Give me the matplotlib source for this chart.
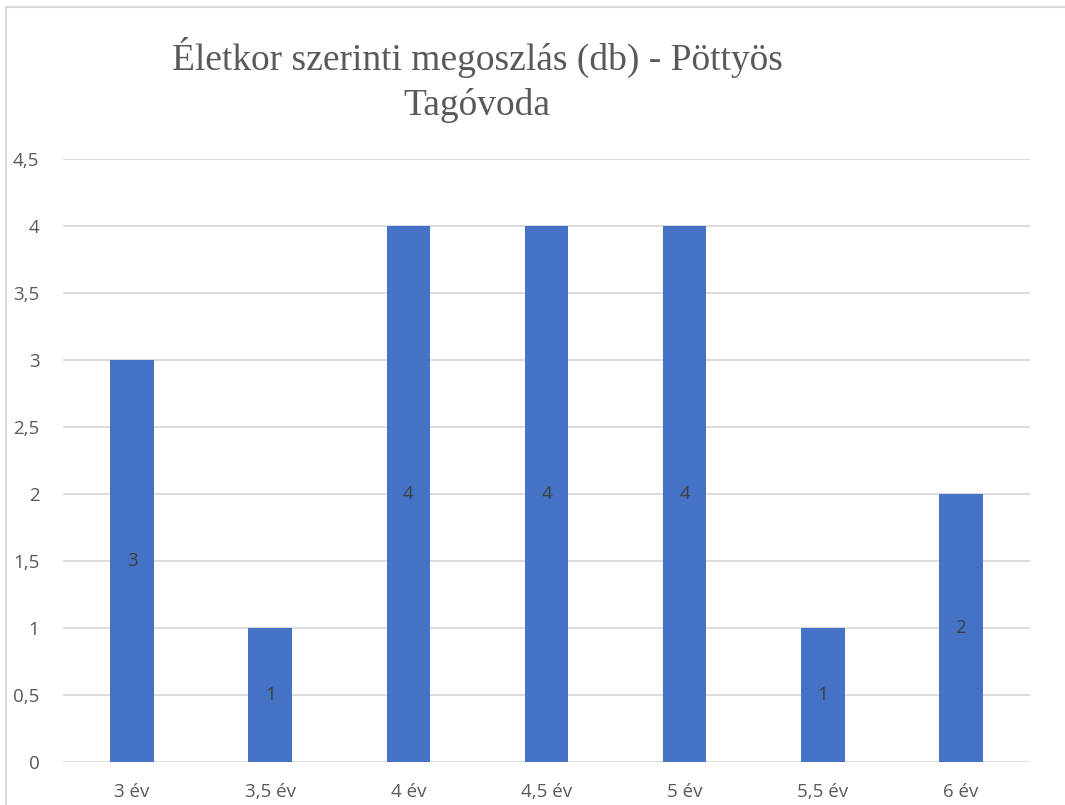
import matplotlib.pyplot as plt
from matplotlib.lines import Line2D

# data
categories = ['3 év', '3,5 év', '4 év', '4,5 év', '5 év', '5,5 év', '6 év']
values = [3, 1, 4, 4, 4, 1, 2]
yticks = [0, 0.5, 1, 1.5, 2, 2.5, 3, 3.5, 4, 4.5]
ytick_labels = ['0', '0,5', '1', '1,5', '2', '2,5', '3', '3,5', '4', '4,5']

W, H = 1065, 805
fig = plt.figure(figsize=(W / 100, H / 100), dpi=100)
ax = fig.add_axes([63 / W, 1 - 762 / H, (1030 - 63) / W, (762 - 159) / H])

x = range(len(categories))
bars = ax.bar(x, values, width=0.315, color='#4472C4', zorder=3)
for b, v in zip(bars, values):
    ax.text(b.get_x() + b.get_width() / 2, v / 2, str(v), ha='center', va='center',
            fontsize=13.5, color='#404040', family='Open Sans', zorder=4)

ax.set_xlim(-0.5, len(categories) - 0.5)
ax.set_ylim(0, 4.5)
ax.set_yticks(yticks)
ax.set_yticklabels(ytick_labels)
ax.set_xticks(list(x))
ax.set_xticklabels(categories)
ax.yaxis.grid(True, color='#d9d9d9', linewidth=1.3, zorder=0)
for s in ax.spines.values():
    s.set_visible(False)
ax.tick_params(axis='both', length=0, labelsize=13.5, labelcolor='#595959')
ax.tick_params(axis='y', pad=17)
ax.tick_params(axis='x', pad=15)
for lbl in ax.get_xticklabels() + ax.get_yticklabels():
    lbl.set_family('Open Sans')

fig.text(477 / W, 1 - 80 / H, 'Életkor szerinti megoszlás (db) - Pöttyös\nTagóvoda',
         ha='center', va='center', fontsize=27, color='#595959',
         family='Liberation Serif', linespacing=1.4, multialignment='center')

# chart border (top and left visible)
fig.add_artist(Line2D([6 / W, 6 / W], [0, 1 - 7 / H], transform=fig.transFigure,
                      color='#d9d9d9', linewidth=1.5))
fig.add_artist(Line2D([6 / W, 1], [1 - 7 / H, 1 - 7 / H], transform=fig.transFigure,
                      color='#d9d9d9', linewidth=1.5))

fig.savefig('out.png', dpi=100, facecolor='white')
